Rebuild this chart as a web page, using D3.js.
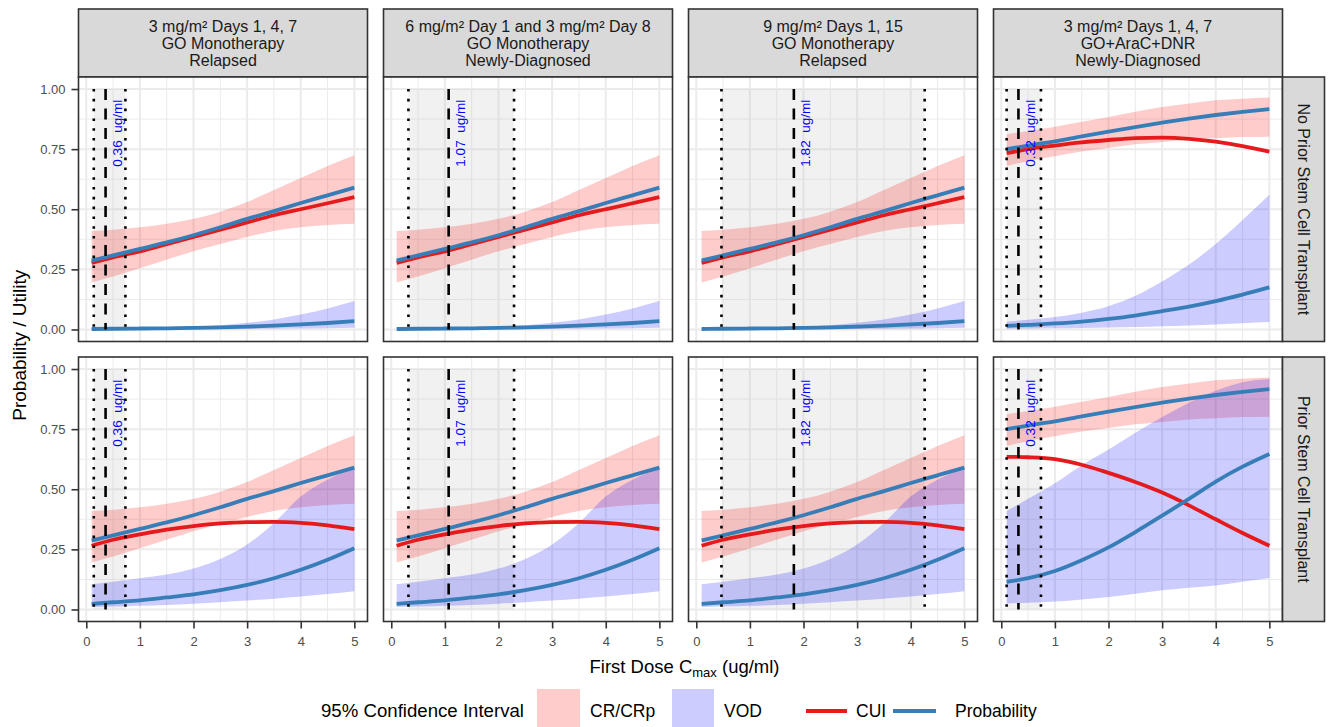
<!DOCTYPE html>
<html>
<head>
<meta charset="utf-8">
<script src="https://cdn.jsdelivr.net/npm/d3@7"></script>
<style>
  body { margin: 0; background: #fff; }
  svg { font-family: 'Liberation Sans', Arial, sans-serif; display: block; }
</style>
</head>
<body>
<svg id="chart" width="1328" height="727"></svg>
<script>
// dose grid the model curves were evaluated on (ug/ml)
const doseX = [0.1, 0.5, 1, 1.5, 2, 2.5, 3, 3.5, 4, 4.5, 5];

// GO monotherapy model (columns 1-3)
const monoCR     = [0.287, 0.308, 0.335, 0.362, 0.392, 0.425, 0.460, 0.492, 0.526, 0.558, 0.590];
const monoCRLo   = [0.195, 0.220, 0.255, 0.290, 0.325, 0.355, 0.385, 0.410, 0.425, 0.435, 0.440];
const monoCRHi   = [0.410, 0.415, 0.425, 0.440, 0.460, 0.490, 0.530, 0.580, 0.630, 0.680, 0.725];
const monoCuiNo  = [0.277, 0.300, 0.325, 0.355, 0.385, 0.415, 0.445, 0.475, 0.500, 0.525, 0.550];
const monoVodNo  = [0.002, 0.003, 0.004, 0.005, 0.007, 0.009, 0.012, 0.016, 0.021, 0.027, 0.035];
const monoVodNoLo = [0.000, 0.000, 0.000, 0.000, 0.001, 0.001, 0.002, 0.003, 0.004, 0.005, 0.007];
const monoVodNoHi = [0.006, 0.006, 0.007, 0.009, 0.012, 0.018, 0.028, 0.042, 0.062, 0.087, 0.118];
const monoCuiSct  = [0.265, 0.290, 0.312, 0.332, 0.347, 0.358, 0.363, 0.364, 0.360, 0.350, 0.334];
const monoVodSct  = [0.023, 0.030, 0.038, 0.050, 0.063, 0.080, 0.102, 0.130, 0.165, 0.207, 0.255];
const monoVodSctLo = [0.010, 0.012, 0.015, 0.019, 0.024, 0.030, 0.037, 0.045, 0.054, 0.064, 0.076];
const monoVodSctHi = [0.105, 0.115, 0.130, 0.145, 0.170, 0.210, 0.270, 0.360, 0.470, 0.540, 0.585];

// GO+AraC+DNR model (column 4)
const comboCR     = [0.750, 0.765, 0.782, 0.803, 0.823, 0.842, 0.860, 0.877, 0.892, 0.905, 0.916];
const comboCRLo   = [0.680, 0.700, 0.720, 0.740, 0.755, 0.770, 0.780, 0.790, 0.795, 0.800, 0.802];
const comboCRHi   = [0.812, 0.825, 0.843, 0.864, 0.884, 0.905, 0.925, 0.940, 0.953, 0.960, 0.965];
const comboCuiNo  = [0.733, 0.750, 0.765, 0.778, 0.788, 0.796, 0.798, 0.793, 0.781, 0.763, 0.740];
const comboVodNo  = [0.015, 0.019, 0.025, 0.033, 0.044, 0.058, 0.076, 0.095, 0.118, 0.145, 0.175];
const comboVodNoLo = [0.003, 0.004, 0.005, 0.006, 0.008, 0.010, 0.013, 0.017, 0.021, 0.026, 0.031];
const comboVodNoHi = [0.033, 0.040, 0.052, 0.070, 0.097, 0.140, 0.200, 0.270, 0.355, 0.455, 0.560];
const comboCuiSct  = [0.635, 0.633, 0.625, 0.602, 0.568, 0.530, 0.486, 0.433, 0.375, 0.318, 0.265];
const comboVodSct  = [0.115, 0.130, 0.160, 0.205, 0.258, 0.322, 0.390, 0.460, 0.532, 0.594, 0.647];
const comboVodSctLo = [0.025, 0.028, 0.033, 0.042, 0.052, 0.065, 0.080, 0.090, 0.100, 0.115, 0.131];
const comboVodSctHi = [0.410, 0.460, 0.525, 0.600, 0.665, 0.735, 0.800, 0.860, 0.910, 0.945, 0.958];

// facets
const regimens = ['3 mg/m² Days 1, 4, 7', '6 mg/m² Day 1 and 3 mg/m² Day 8', '9 mg/m² Days 1, 15', '3 mg/m² Days 1, 4, 7'];
const therapies = ['GO Monotherapy', 'GO Monotherapy', 'GO Monotherapy', 'GO+AraC+DNR'];
const populations = ['Relapsed', 'Newly-Diagnosed', 'Relapsed', 'Newly-Diagnosed'];
const transplantRows = ['No Prior Stem Cell Transplant', 'Prior Stem Cell Transplant'];

// median first-dose Cmax and its interval, per column
const cmaxMedian = [0.36, 1.07, 1.82, 0.32];
const cmaxLow    = [0.14, 0.32, 0.47, 0.10];
const cmaxHigh   = [0.73, 2.29, 4.26, 0.74];

const xTicks = [0, 1, 2, 3, 4, 5];
const yTicks = [0, 0.25, 0.5, 0.75, 1];

const models = {
  mono: [
    { cr: monoCR, crLo: monoCRLo, crHi: monoCRHi, cui: monoCuiNo, vod: monoVodNo, vodLo: monoVodNoLo, vodHi: monoVodNoHi },
    { cr: monoCR, crLo: monoCRLo, crHi: monoCRHi, cui: monoCuiSct, vod: monoVodSct, vodLo: monoVodSctLo, vodHi: monoVodSctHi },
  ],
  combo: [
    { cr: comboCR, crLo: comboCRLo, crHi: comboCRHi, cui: comboCuiNo, vod: comboVodNo, vodLo: comboVodNoLo, vodHi: comboVodNoHi },
    { cr: comboCR, crLo: comboCRLo, crHi: comboCRHi, cui: comboCuiSct, vod: comboVodSct, vodLo: comboVodSctLo, vodHi: comboVodSctHi },
  ],
};
const columnModel = ['mono', 'mono', 'mono', 'combo'];

// layout
const panelW = 289;
const panelH = 264.5;
const colX = [78.5, 383.5, 688.5, 993.5];
const rowY = [77, 357];
const stripTop = 9;
const stripW = 42;

const RED = '#E41A1C';
const BLUE = '#377EB8';
const DARK = '#333333';

const svg = d3.select('#chart');

const zip = (ys) => doseX.map((d, i) => [d, ys[i]]);
const zip2 = (lo, hi) => doseX.map((d, i) => [d, lo[i], hi[i]]);

colX.forEach((cx, c) => {
  const x = d3.scaleLinear().domain([-0.145, 5.245]).range([cx, cx + panelW]);

  // column strip
  const strip = svg.append('g');
  strip.append('rect')
    .attr('x', cx).attr('y', stripTop)
    .attr('width', panelW).attr('height', rowY[0] - stripTop)
    .attr('fill', '#d9d9d9').attr('stroke', DARK).attr('stroke-width', 1.6);
  [regimens[c], therapies[c], populations[c]].forEach((t, k) => {
    strip.append('text')
      .attr('x', cx + panelW / 2).attr('y', 31.5 + k * 17.4)
      .attr('text-anchor', 'middle')
      .attr('font-size', 16).attr('fill', '#1a1a1a')
      .text(t);
  });

  rowY.forEach((ry, r) => {
    const y = d3.scaleLinear().domain([-0.05, 1.05]).range([ry + panelH, ry]);
    const s = models[columnModel[c]][r];
    const g = svg.append('g');

    g.append('rect')
      .attr('x', cx).attr('y', ry).attr('width', panelW).attr('height', panelH)
      .attr('fill', '#fff');

    // grid
    const minorX = [0.5, 1.5, 2.5, 3.5, 4.5];
    const minorY = [0.125, 0.375, 0.625, 0.875];
    g.selectAll('.gx-minor').data(minorX).join('line')
      .attr('x1', (d) => x(d)).attr('x2', (d) => x(d))
      .attr('y1', ry).attr('y2', ry + panelH)
      .attr('stroke', '#ebebeb').attr('stroke-width', 1);
    g.selectAll('.gy-minor').data(minorY).join('line')
      .attr('x1', cx).attr('x2', cx + panelW)
      .attr('y1', (d) => y(d)).attr('y2', (d) => y(d))
      .attr('stroke', '#ebebeb').attr('stroke-width', 1);
    g.selectAll('.gx').data(xTicks).join('line')
      .attr('x1', (d) => x(d)).attr('x2', (d) => x(d))
      .attr('y1', ry).attr('y2', ry + panelH)
      .attr('stroke', '#ebebeb').attr('stroke-width', 2);
    g.selectAll('.gy').data(yTicks).join('line')
      .attr('x1', cx).attr('x2', cx + panelW)
      .attr('y1', (d) => y(d)).attr('y2', (d) => y(d))
      .attr('stroke', '#ebebeb').attr('stroke-width', 2);

    // Cmax interval shading
    g.append('rect')
      .attr('x', x(cmaxLow[c])).attr('y', y(1))
      .attr('width', x(cmaxHigh[c]) - x(cmaxLow[c]))
      .attr('height', y(0) - y(1))
      .attr('fill', '#bdbdbd').attr('opacity', 0.22);

    const area = d3.area()
      .x((d) => x(d[0])).y0((d) => y(d[1])).y1((d) => y(d[2]))
      .curve(d3.curveMonotoneX);
    const line = d3.line()
      .x((d) => x(d[0])).y((d) => y(d[1]))
      .curve(d3.curveMonotoneX);

    g.append('path').attr('d', area(zip2(s.crLo, s.crHi)))
      .attr('fill', 'red').attr('opacity', 0.2);
    g.append('path').attr('d', area(zip2(s.vodLo, s.vodHi)))
      .attr('fill', 'blue').attr('opacity', 0.2);

    g.append('path').attr('d', line(zip(s.cui)))
      .attr('fill', 'none').attr('stroke', RED).attr('stroke-width', 3.8);
    [s.cr, s.vod].forEach((ys) => {
      g.append('path').attr('d', line(zip(ys)))
        .attr('fill', 'none').attr('stroke', BLUE).attr('stroke-width', 3.8);
    });

    // median and interval markers
    [cmaxLow[c], cmaxHigh[c]].forEach((v) => {
      g.append('line')
        .attr('x1', x(v)).attr('x2', x(v)).attr('y1', y(1)).attr('y2', y(0))
        .attr('stroke', '#000').attr('stroke-width', 2.6)
        .attr('stroke-dasharray', '2.6,7.2');
    });
    g.append('line')
      .attr('x1', x(cmaxMedian[c])).attr('x2', x(cmaxMedian[c]))
      .attr('y1', y(1)).attr('y2', y(0))
      .attr('stroke', '#000').attr('stroke-width', 2.6)
      .attr('stroke-dasharray', '11,8.5');

    const lx = x(cmaxMedian[c] + 0.22);
    const ly = y(0.955);
    g.append('text')
      .attr('transform', `translate(${lx},${ly}) rotate(-90)`)
      .attr('text-anchor', 'end')
      .attr('dominant-baseline', 'central')
      .attr('font-size', 13.5).attr('fill', '#0000ff')
      .style('white-space', 'pre')
      .text(`${d3.format('.2f')(cmaxMedian[c])}  ug/ml`);

    g.append('rect')
      .attr('x', cx).attr('y', ry).attr('width', panelW).attr('height', panelH)
      .attr('fill', 'none').attr('stroke', DARK).attr('stroke-width', 1.6);

    if (c === 0) {
      const ya = g.append('g')
        .attr('transform', `translate(${cx},0)`)
        .call(d3.axisLeft(y).tickValues(yTicks).tickFormat(d3.format('.2f')).tickSize(7).tickPadding(6));
      ya.select('.domain').remove();
      ya.selectAll('line').attr('stroke', DARK).attr('stroke-width', 1.6);
      ya.selectAll('text').attr('font-size', 13).attr('fill', '#4d4d4d')
        .attr('font-family', "'Liberation Sans', Arial, sans-serif");
    }

    if (r === rowY.length - 1) {
      const xa = g.append('g')
        .attr('transform', `translate(0,${ry + panelH})`)
        .call(d3.axisBottom(x).tickValues(xTicks).tickFormat(d3.format('d')).tickSize(7).tickPadding(8.5));
      xa.select('.domain').remove();
      xa.selectAll('line').attr('stroke', DARK).attr('stroke-width', 1.6);
      xa.selectAll('text').attr('font-size', 13).attr('fill', '#4d4d4d')
        .attr('font-family', "'Liberation Sans', Arial, sans-serif");
    }

    if (c === colX.length - 1) {
      const sx = cx + panelW;
      g.append('rect')
        .attr('x', sx).attr('y', ry).attr('width', stripW).attr('height', panelH)
        .attr('fill', '#d9d9d9').attr('stroke', DARK).attr('stroke-width', 1.6);
      g.append('text')
        .attr('transform', `translate(${sx + stripW / 2},${ry + panelH / 2}) rotate(90)`)
        .attr('text-anchor', 'middle').attr('dominant-baseline', 'central')
        .attr('font-size', 16).attr('fill', '#1a1a1a')
        .text(transplantRows[r]);
    }
  });
});

// axis titles
svg.append('text')
  .attr('transform', `translate(19,${(rowY[0] + rowY[1] + panelH) / 2 - 4}) rotate(-90)`)
  .attr('text-anchor', 'middle').attr('dominant-baseline', 'central')
  .attr('font-size', 19).attr('fill', '#000')
  .text('Probability / Utility');

const xt = svg.append('text')
  .attr('x', (colX[0] + colX[3] + panelW) / 2 + 4).attr('y', 672.5)
  .attr('text-anchor', 'middle').attr('font-size', 18.5).attr('fill', '#000');
xt.append('tspan').text('First Dose C');
xt.append('tspan').attr('font-size', 13).attr('dy', 4).text('max');
xt.append('tspan').attr('dy', -4).text(' (ug/ml)');

// legend
const lg = svg.append('g').attr('font-size', 17.5).attr('fill', '#000');
const legendMid = 711;
lg.append('text').attr('x', 321).attr('y', legendMid + 6.3)
  .attr('textLength', 203).attr('lengthAdjust', 'spacingAndGlyphs')
  .text('95% Confidence Interval');
lg.append('rect').attr('x', 537).attr('y', legendMid - 22).attr('width', 43).attr('height', 44)
  .attr('fill', 'red').attr('opacity', 0.2);
lg.append('text').attr('x', 590).attr('y', legendMid + 6.3).text('CR/CRp');
lg.append('rect').attr('x', 672).attr('y', legendMid - 22).attr('width', 42).attr('height', 44)
  .attr('fill', 'blue').attr('opacity', 0.2);
lg.append('text').attr('x', 724).attr('y', legendMid + 6.3).text('VOD');
lg.append('line').attr('x1', 806).attr('x2', 847).attr('y1', legendMid).attr('y2', legendMid)
  .attr('stroke', RED).attr('stroke-width', 3.8);
lg.append('text').attr('x', 856).attr('y', legendMid + 6.3).text('CUI');
lg.append('line').attr('x1', 893).attr('x2', 936).attr('y1', legendMid).attr('y2', legendMid)
  .attr('stroke', BLUE).attr('stroke-width', 3.8);
lg.append('text').attr('x', 955).attr('y', legendMid + 6.3).text('Probability');
</script>
</body>
</html>
